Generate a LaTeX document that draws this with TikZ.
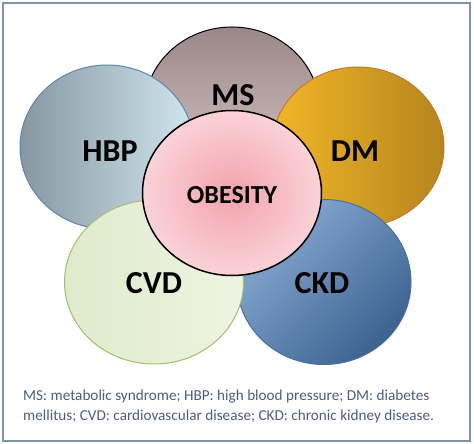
\documentclass[tikz,border=0pt]{standalone}
\usepackage{fontspec}
\setmainfont{Carlito}
\usetikzlibrary{shapes.geometric}
\definecolor{frame}{HTML}{7F93A8}
\definecolor{captxt}{HTML}{4A5F80}
\definecolor{msA}{HTML}{9A8888}
\definecolor{msB}{HTML}{DCCACA}
\definecolor{hbpA}{HTML}{8797A1}
\definecolor{hbpB}{HTML}{D0E6EF}
\definecolor{hbpL}{HTML}{5E86B0}
\definecolor{dmA}{HTML}{F3B627}
\definecolor{dmB}{HTML}{B5851E}
\definecolor{dmL}{HTML}{C07A34}
\definecolor{ckdA}{HTML}{8AACD4}
\definecolor{ckdB}{HTML}{3C6290}
\definecolor{ckdL}{HTML}{4A6F9C}
\definecolor{cvdA}{HTML}{DFEBCB}
\definecolor{cvdB}{HTML}{EEF4E2}
\definecolor{cvdL}{HTML}{A3BE6C}
\definecolor{obA}{HTML}{F2A3AC}
\definecolor{obB}{HTML}{FAD3D7}
\tikzset{
  blob/.style={ellipse, inner sep=0pt, line width=1pt},
  lbl/.style={font=\fontsize{32}{32}\selectfont\bfseries, text=black, inner sep=0pt},
  captionline/.style={font=\fontsize{15.2}{18}\selectfont, text=captxt, anchor=west, inner sep=0pt}
}
\begin{document}
\begin{tikzpicture}[x=1pt,y=-1pt]
\useasboundingbox (0,0) rectangle (474,444);
\fill[white] (0,0) rectangle (474,444);
\draw[frame, line width=1.5pt] (3,3) rectangle (470,441);
\node[blob, draw=black, top color=msA, bottom color=msB, minimum width=175pt, minimum height=164pt] (ms) at (232,109) {};
\node[blob, draw=hbpL, left color=hbpA, right color=hbpB, minimum width=174pt, minimum height=164pt] (hbp) at (107,147) {};
\node[blob, draw=dmL, left color=dmA, right color=dmB, minimum width=172pt, minimum height=160pt] (dm) at (358,147) {};
\node[blob, draw=ckdL, top color=ckdA, bottom color=ckdB, shading angle=45, minimum width=174pt, minimum height=165pt] (ckd) at (324,282) {};
\node[blob, draw=cvdL, left color=cvdA, right color=cvdB, minimum width=179pt, minimum height=164pt] (cvd) at (154,282) {};
\node[blob, draw=black, line width=1.5pt, inner color=obA, outer color=obB, minimum width=179pt, minimum height=165pt] (ob) at (232,193) {};
\node[lbl] (tms) at (233,95) {MS};
\node[lbl] (thbp) at (110,151) {HBP};
\node[lbl] (tdm) at (355,151) {DM};
\node[lbl, font=\fontsize{26}{26}\selectfont\bfseries] (tob) at (232,195) {OBESITY};
\node[lbl] (tcvd) at (154,283) {CVD};
\node[lbl] (tckd) at (322,283) {CKD};
\node[captionline] (c1) at (23,397) {MS: metabolic syndrome; HBP: high blood pressure; DM: diabetes};
\node[captionline] (c2) at (23,416) {mellitus; CVD: cardiovascular disease; CKD: chronic kidney disease.};
\end{tikzpicture}
\end{document}
